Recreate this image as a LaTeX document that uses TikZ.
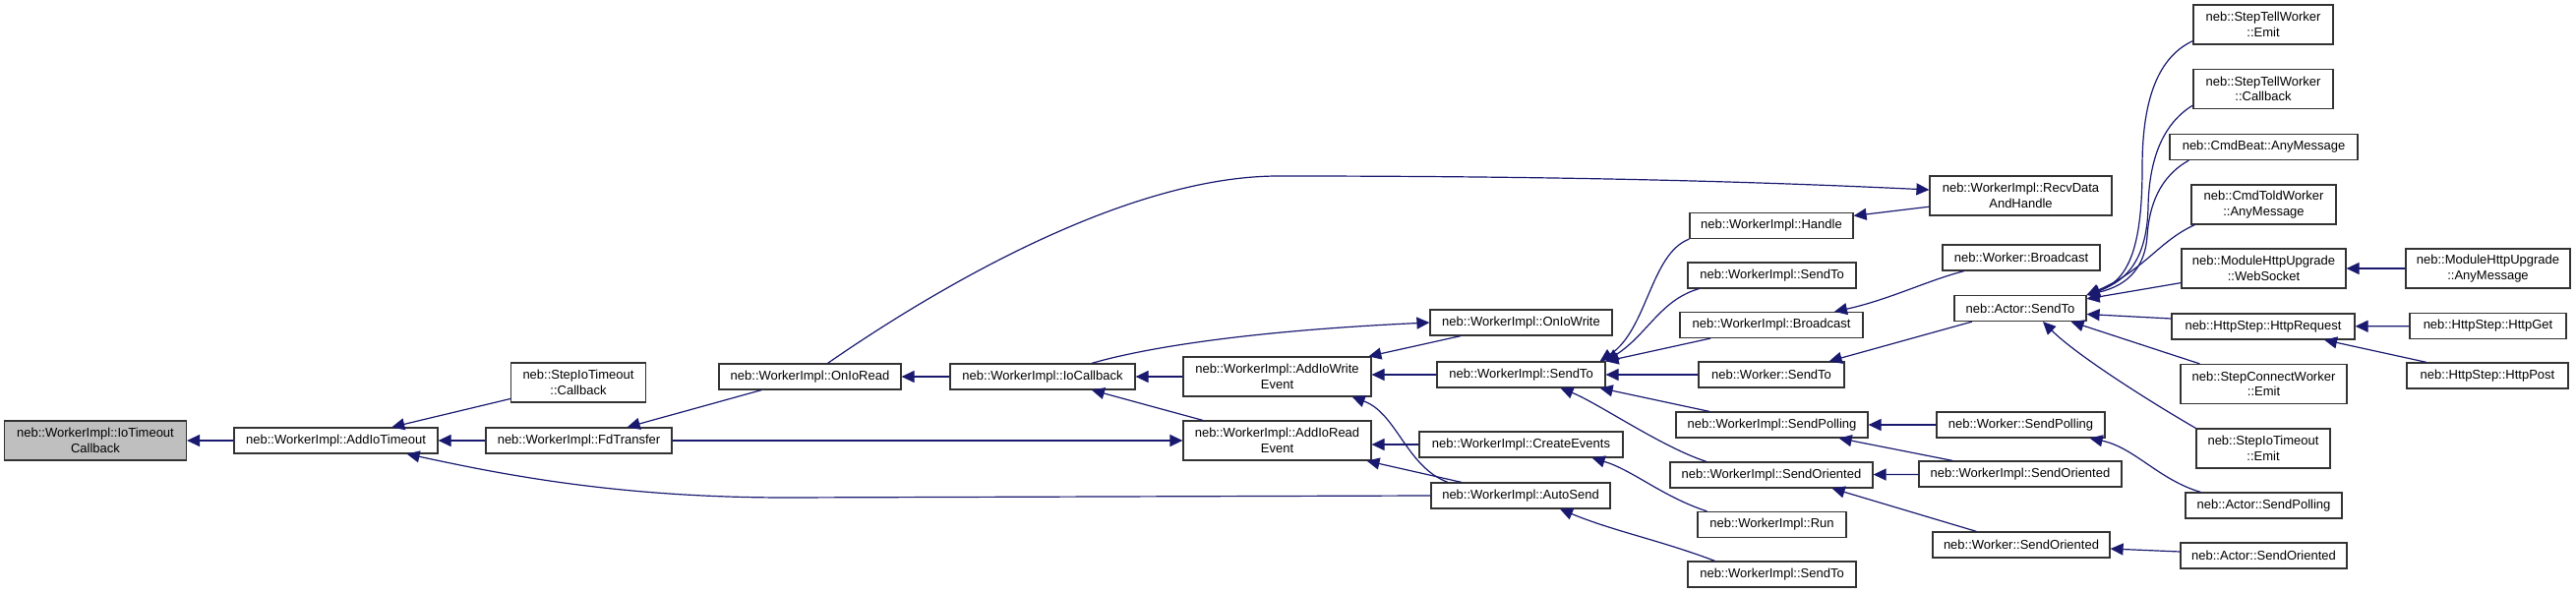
\documentclass[tikz,border=0pt]{standalone}
\usepackage{fontspec}
\setmainfont{Liberation Sans}
\usetikzlibrary{arrows.meta}
\definecolor{dxEdge}{HTML}{191970}
\definecolor{dxRoot}{HTML}{BFBFBF}
\definecolor{dxLine}{HTML}{333333}
\newcommand{\dxfont}{\fontsize{6.5pt}{7.7pt}\selectfont}

\begin{document}
\begin{tikzpicture}[
  x=0.5pt, y=-0.5pt,
  fn/.style={draw=dxLine, fill=white, line width=0.6pt, align=center, font=\dxfont, inner sep=1pt, minimum height=13pt},
  twoLine/.style={minimum height=20pt},
  call/.style={draw=dxEdge, line width=0.6pt, -{Triangle[length=6.5pt,width=6pt]}}
]
\useasboundingbox (0,0) rectangle (2619,603);

% column 0..5
\node[fn, twoLine, fill=dxRoot, minimum width=92.5pt] (ioTimeoutCb) at (97,448) {neb::WorkerImpl::IoTimeout\\Callback};
\node[fn, minimum width=103.5pt] (addIoTimeout) at (341.5,448) {neb::WorkerImpl::AddIoTimeout};
\node[fn, twoLine, minimum width=68.5pt] (stepIoTimeoutCb) at (588,389) {neb::StepIoTimeout\\::Callback};
\node[fn, minimum width=94.5pt] (fdTransfer) at (588.5,448) {neb::WorkerImpl::FdTransfer};
\node[fn, minimum width=92.5pt] (onIoRead) at (823.5,383) {neb::WorkerImpl::OnIoRead};
\node[fn, minimum width=94pt] (ioCallback) at (1060,383) {neb::WorkerImpl::IoCallback};
\node[fn, twoLine, minimum width=95.5pt] (addIoWriteEvent) at (1298.5,383) {neb::WorkerImpl::AddIoWrite\\Event};
\node[fn, twoLine, minimum width=95.5pt] (addIoReadEvent) at (1298.5,448) {neb::WorkerImpl::AddIoRead\\Event};

% column 6
\node[fn, minimum width=92.5pt] (onIoWrite) at (1546.5,328) {neb::WorkerImpl::OnIoWrite};
\node[fn, minimum width=85.5pt] (sendTo) at (1546.5,381) {neb::WorkerImpl::SendTo};
\node[fn, minimum width=103.5pt] (createEvents) at (1546.5,452) {neb::WorkerImpl::CreateEvents};
\node[fn, minimum width=91pt] (autoSend) at (1546,504) {neb::WorkerImpl::AutoSend};

% column 7
\node[fn, minimum width=83pt] (handle) at (1801,229.5) {neb::WorkerImpl::Handle};
\node[fn, minimum width=85.5pt] (sendToB) at (1801.5,280) {neb::WorkerImpl::SendTo};
\node[fn, minimum width=93pt] (implBroadcast) at (1801,330.5) {neb::WorkerImpl::Broadcast};
\node[fn, minimum width=74pt] (workerSendTo) at (1801,381) {neb::Worker::SendTo};
\node[fn, minimum width=97.5pt] (implSendPolling) at (1801.5,432) {neb::WorkerImpl::SendPolling};
\node[fn, minimum width=103pt] (implSendOriented) at (1801,483) {neb::WorkerImpl::SendOriented};
\node[fn, minimum width=75.5pt] (run) at (1801.5,533.5) {neb::WorkerImpl::Run};
\node[fn, minimum width=85.5pt] (sendToC) at (1801.5,584) {neb::WorkerImpl::SendTo};

% column 8
\node[fn, twoLine, minimum width=92.5pt] (recvData) at (2054.5,199) {neb::WorkerImpl::RecvData\\AndHandle};
\node[fn, minimum width=80pt] (workerBroadcast) at (2055,262) {neb::Worker::Broadcast};
\node[fn, minimum width=67pt] (actorSendTo) at (2054,313.5) {neb::Actor::SendTo};
\node[fn, minimum width=85.5pt] (workerSendPolling) at (2054.5,432) {neb::Worker::SendPolling};
\node[fn, minimum width=103pt] (implSendOrientedB) at (2054,482) {neb::WorkerImpl::SendOriented};
\node[fn, minimum width=90pt] (workerSendOriented) at (2055,554) {neb::Worker::SendOriented};

% column 9
\node[fn, twoLine, minimum width=71pt] (tellEmit) at (2301,25) {neb::StepTellWorker\\::Emit};
\node[fn, twoLine, minimum width=71pt] (tellCallback) at (2301,90.5) {neb::StepTellWorker\\::Callback};
\node[fn, minimum width=95.5pt] (beatAny) at (2301.5,149.5) {neb::CmdBeat::AnyMessage};
\node[fn, twoLine, minimum width=73.5pt] (toldAny) at (2301.5,208) {neb::CmdToldWorker\\::AnyMessage};
\node[fn, twoLine, minimum width=83.5pt] (webSocket) at (2301.5,273) {neb::ModuleHttpUpgrade\\::WebSocket};
\node[fn, minimum width=93pt] (httpRequest) at (2301,332) {neb::HttpStep::HttpRequest};
\node[fn, twoLine, minimum width=84.5pt] (connectEmit) at (2301.5,390.5) {neb::StepConnectWorker\\::Emit};
\node[fn, twoLine, minimum width=68pt] (ioTimeoutEmit) at (2301,456) {neb::StepIoTimeout\\::Emit};
\node[fn, minimum width=79.5pt] (actorSendPolling) at (2301.5,514) {neb::Actor::SendPolling};
\node[fn, minimum width=84.5pt] (actorSendOriented) at (2301.5,565) {neb::Actor::SendOriented};

% column 10
\node[fn, twoLine, minimum width=83.5pt] (upgradeAny) at (2529.5,273) {neb::ModuleHttpUpgrade\\::AnyMessage};
\node[fn, minimum width=79.5pt] (httpGet) at (2529.5,331.5) {neb::HttpStep::HttpGet};
\node[fn, minimum width=82pt] (httpPost) at (2529,382) {neb::HttpStep::HttpPost};

% calls
\draw[call] (addIoTimeout) -- (ioTimeoutCb);
\draw[call] (stepIoTimeoutCb) -- (addIoTimeout);
\draw[call] (fdTransfer) -- (addIoTimeout);
\draw[call] (autoSend.west) -- (800,506) .. controls (620,506) and (500,480) .. ([xshift=-16pt]addIoTimeout.south east);
\draw[call] (onIoRead) -- (fdTransfer);
\draw[call] (fdTransfer) -- (addIoReadEvent);
\draw[call] (ioCallback) -- (onIoRead);
\draw[call] ([xshift=9pt]onIoRead.north) .. controls (962,286) and (1150,179) .. (1300,179) .. controls (1550,179) and (1750,183) .. ([yshift=3pt]recvData.west);
\draw[call] (addIoWriteEvent) -- (ioCallback);
\draw[call] (addIoReadEvent) -- (ioCallback);
\draw[call] ([xshift=25pt]ioCallback.north) .. controls (1170,352) and (1280,336) .. (onIoWrite.west);
\draw[call] (onIoWrite) -- (addIoWriteEvent);
\draw[call] (sendTo.west) -- (sendTo.west -| addIoWriteEvent.east);
\draw[call] ([xshift=-37pt]autoSend.north) .. controls (1430,475) and (1420,420) .. ([xshift=-10pt]addIoWriteEvent.south east);
\draw[call] (createEvents.west) -- (createEvents.west -| addIoReadEvent.east);
\draw[call] (autoSend) -- (addIoReadEvent);

\draw[call] (handle.south west) .. controls (1678,258) and (1675,335) .. ([xshift=-3pt]sendTo.north east);
\draw[call] ([xshift=6pt]sendToB.south west) .. controls (1688,305) and (1675,340) .. (sendTo.north east);
\draw[call] (implBroadcast) -- (sendTo.north east);
\draw[call] (workerSendTo) -- (sendTo);
\draw[call] (implSendPolling) -- ([xshift=-3pt]sendTo.south east);
\draw[call] ([xshift=-33pt]implSendOriented.north) .. controls (1690,455) and (1625,410) .. ([xshift=20pt]sendTo.south);
\draw[call] ([xshift=-33pt]run.north) .. controls (1690,505) and (1660,478) .. ([xshift=-16pt]createEvents.south east);
\draw[call] ([xshift=-29pt]sendToC.north) .. controls (1690,550) and (1640,540) .. ([xshift=20pt]autoSend.south);

\draw[call] (recvData) -- (handle);
\draw[call] ([xshift=-29pt]workerBroadcast.south) .. controls (1960,285) and (1920,305) .. ([xshift=32pt]implBroadcast.north);
\draw[call] (actorSendTo) -- ([xshift=-8pt]workerSendTo.north east);
\draw[call] (workerSendPolling) -- (implSendPolling);
\draw[call] (implSendOrientedB) -- ([xshift=-15pt]implSendPolling.south east);
\draw[call] (implSendOrientedB) -- (implSendOriented);
\draw[call] (workerSendOriented) -- ([xshift=-21pt]implSendOriented.south east);

\draw[call] ([yshift=2pt]tellEmit.south west) .. controls (2190,60) and (2178,110) .. (2178,170) .. controls (2178,250) and (2165,285) .. (actorSendTo.north east);
\draw[call] ([yshift=2pt]tellCallback.south west) .. controls (2200,125) and (2185,160) .. (2184,210) .. controls (2183,260) and (2165,285) .. (actorSendTo.north east);
\draw[call] ([xshift=10pt]beatAny.south west) .. controls (2195,180) and (2185,210) .. (2183,240) .. controls (2181,270) and (2165,290) .. (actorSendTo.north east);
\draw[call] ([xshift=2pt]toldAny.south west) .. controls (2195,245) and (2180,275) .. (actorSendTo.north east);
\draw[call] ([yshift=3pt]webSocket.south west) -- ([yshift=-2pt]actorSendTo.north east);
\draw[call] ([yshift=4pt]httpRequest.west) -- ([yshift=-3pt]actorSendTo.east);
\draw[call] ([xshift=10pt]connectEmit.north west) -- ([xshift=-8pt]actorSendTo.south east);
\draw[call] (ioTimeoutEmit.north west) .. controls (2180,405) and (2110,360) .. ([xshift=11.5pt]actorSendTo.south);
\draw[call] ([xshift=8pt]actorSendPolling.north west) .. controls (2195,488) and (2170,455) .. ([xshift=-8pt]workerSendPolling.south east);
\draw[call] ([yshift=2pt]actorSendOriented.west) -- ([yshift=-2pt]workerSendOriented.east);

\draw[call] (upgradeAny) -- (webSocket);
\draw[call] (httpGet) -- (httpRequest);
\draw[call] (httpPost) -- (httpRequest);
\end{tikzpicture}
\end{document}
